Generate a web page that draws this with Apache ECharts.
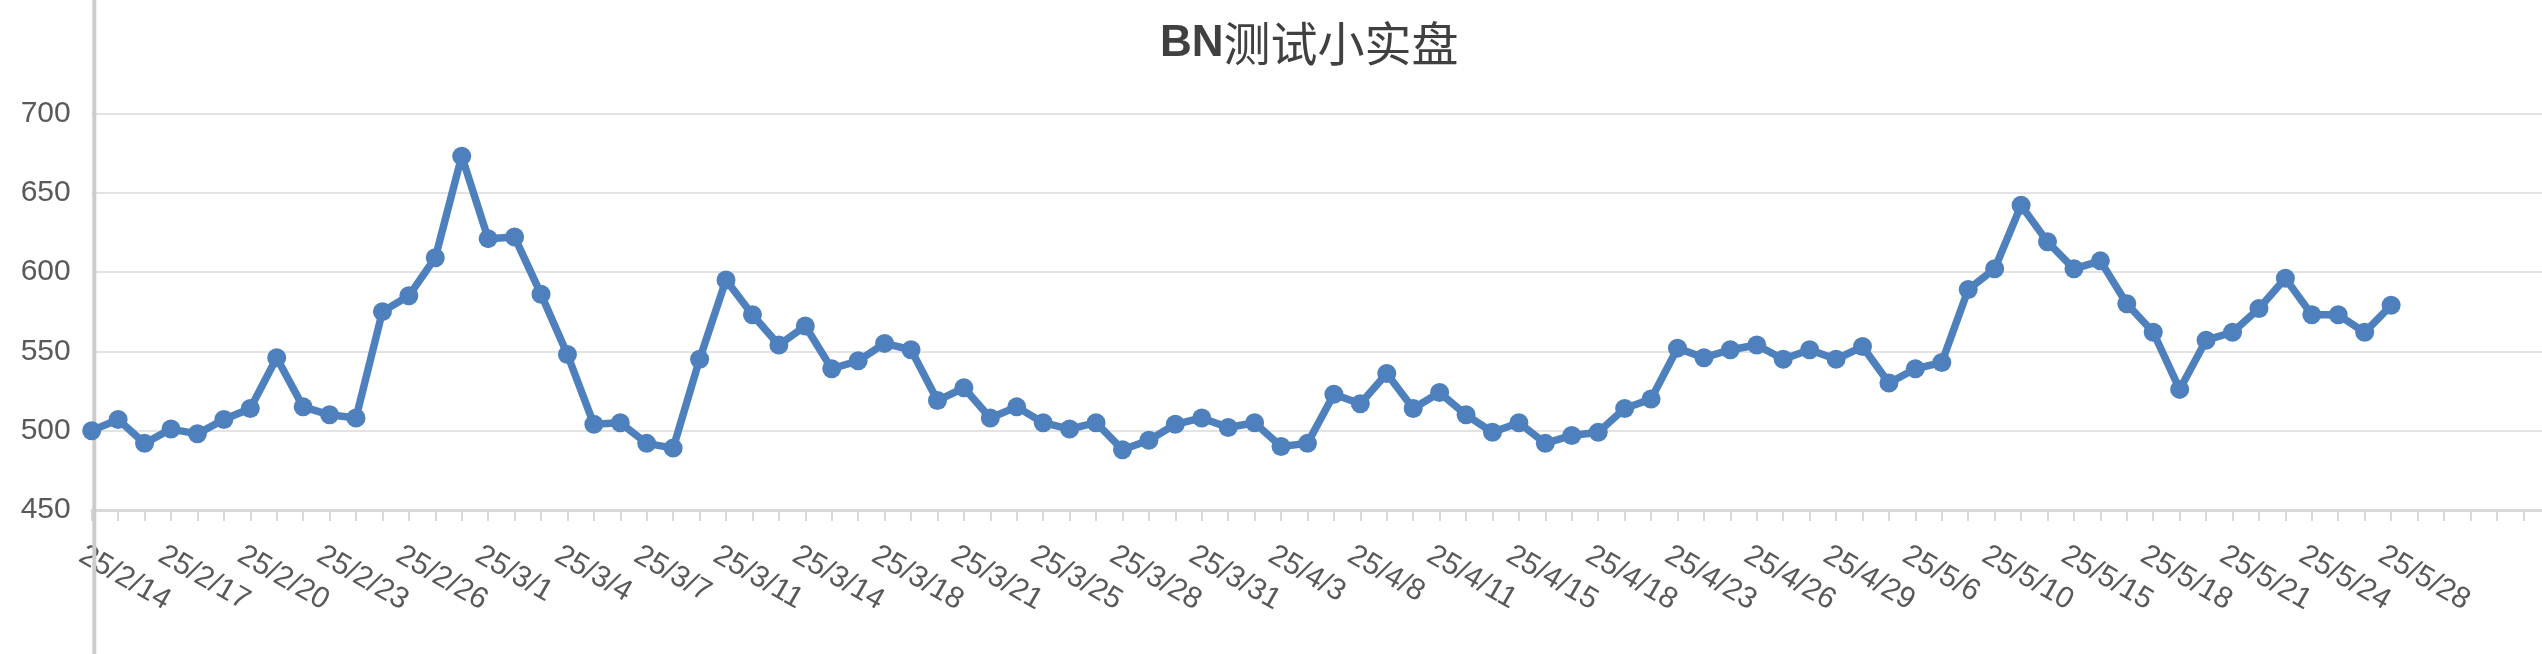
<!DOCTYPE html>
<html>
<head>
<meta charset="utf-8">
<title>BN测试小实盘</title>
<script src="https://cdn.jsdelivr.net/npm/echarts@6/dist/echarts.min.js"></script>
<style>
  html, body { margin: 0; padding: 0; background: #fff; }
  #chart { width: 2542px; height: 654px; }
</style>
</head>
<body>
<div id="chart"></div>
<script>
// dates on the category axis (one per trading record)
const dates = [
    '25/2/14', '25/2/15', '25/2/16', '25/2/17', '25/2/18', '25/2/19', '25/2/20', '25/2/21',
    '25/2/22', '25/2/23', '25/2/24', '25/2/25', '25/2/26', '25/2/27', '25/2/28', '25/3/1',
    '25/3/2', '25/3/3', '25/3/4', '25/3/5', '25/3/6', '25/3/7', '25/3/8', '25/3/10',
    '25/3/11', '25/3/12', '25/3/13', '25/3/14', '25/3/15', '25/3/17', '25/3/18', '25/3/19',
    '25/3/20', '25/3/21', '25/3/22', '25/3/24', '25/3/25', '25/3/26', '25/3/27', '25/3/28',
    '25/3/29', '25/3/30', '25/3/31', '25/4/1', '25/4/2', '25/4/3', '25/4/6', '25/4/7',
    '25/4/8', '25/4/9', '25/4/10', '25/4/11', '25/4/12', '25/4/14', '25/4/15', '25/4/16',
    '25/4/17', '25/4/18', '25/4/20', '25/4/22', '25/4/23', '25/4/24', '25/4/25', '25/4/26',
    '25/4/27', '25/4/28', '25/4/29', '25/4/30', '25/5/5', '25/5/6', '25/5/7', '25/5/9',
    '25/5/10', '25/5/12', '25/5/14', '25/5/15', '25/5/16', '25/5/17', '25/5/18', '25/5/19',
    '25/5/20', '25/5/21', '25/5/22', '25/5/23', '25/5/24', '25/5/25', '25/5/27', '25/5/28'
];

// empty slots the original axis keeps after the last record
const emptySlots = ['', '', '', '', '', ''];

// account value
const values = [
    500, 507, 492, 501, 498, 507, 514, 546, 515, 510, 508, 575, 585, 609, 673, 621,
    622, 586, 548, 504, 505, 492, 489, 545, 595, 573, 554, 566, 539, 544, 555, 551,
    519, 527, 508, 515, 505, 501, 505, 488, 494, 504, 508, 502, 505, 490, 492, 523,
    517, 536, 514, 524, 510, 499, 505, 492, 497, 499, 514, 520, 552, 546, 551, 554,
    545, 551, 545, 553, 530, 539, 543, 589, 602, 642, 619, 602, 607, 580, 562, 526,
    557, 562, 577, 596, 573, 573, 562, 579
];

const yTicks = [450, 500, 550, 600, 650, 700];

const categories = dates.concat(emptySlots);
const blue = '#4e80bd';

var chart = echarts.init(document.getElementById('chart'));

var option = {
    animation: false,
    backgroundColor: '#ffffff',
    title: {
        text: '{b|BN}{c|测试小实盘}',
        left: 1155,
        top: 15,
        textStyle: {
            rich: {
                b: { fontFamily: 'Liberation Sans', fontWeight: 'bold', fontSize: 44, color: '#404040' },
                c: { fontFamily: 'Noto Sans CJK SC', fontWeight: 'normal', fontSize: 47, color: '#404040' }
            }
        }
    },
    grid: {
        left: 91.7,
        top: 113.3,
        height: 396.7,
        width: 26.43 * (categories.length - 1),
        containLabel: false,
        outerBoundsMode: 'none'
    },
    graphic: [
        {
            // the long left rule of the original picture
            type: 'line',
            z: 1,
            shape: { x1: 94.3, y1: 0, x2: 94.3, y2: 654 },
            style: { stroke: '#cccccc', lineWidth: 4 }
        }
    ],
    xAxis: {
        type: 'category',
        data: categories,
        boundaryGap: false,
        axisLine: { show: true, lineStyle: { color: '#d9d9d9', width: 3 } },
        axisTick: { show: true, interval: 0, length: 11, lineStyle: { color: '#d9d9d9', width: 2 } },
        axisLabel: {
            interval: 2,
            rotate: -30,
            margin: 49,
            padding: [0, 0, 0, -12],
            fontFamily: 'Liberation Sans',
            fontSize: 30,
            color: '#595959'
        },
        splitLine: { show: false }
    },
    yAxis: {
        type: 'value',
        min: yTicks[0],
        max: yTicks[yTicks.length - 1],
        interval: 50,
        axisLine: { show: false },
        axisTick: { show: false },
        axisLabel: {
            margin: 21,
            fontFamily: 'Liberation Sans',
            fontSize: 30,
            color: '#595959'
        },
        splitLine: { show: true, lineStyle: { color: '#e3e3e3', width: 2 } }
    },
    series: [
        {
            name: 'BN测试小实盘',
            type: 'line',
            data: values,
            symbol: 'circle',
            symbolSize: 19,
            showAllSymbol: true,
            lineStyle: { color: blue, width: 7.5 },
            itemStyle: { color: blue, borderWidth: 0 },
            z: 3
        }
    ]
};

chart.setOption(option);
</script>
</body>
</html>
